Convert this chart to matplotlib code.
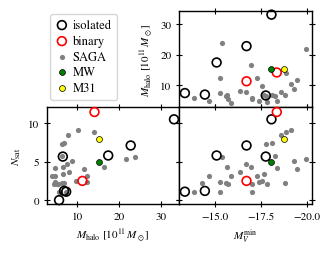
import numpy as np
import matplotlib
matplotlib.use("Agg")
import matplotlib.pyplot as plt
from matplotlib.ticker import MultipleLocator

plt.rcParams['font.family'] = ['STIXGeneral', 'DejaVu Serif']
plt.rcParams['mathtext.fontset'] = 'stix'
plt.rcParams['font.size'] = 8

nan = np.nan
# SAGA hosts: (M_V^min, M_halo [1e11 Msun], N_sat)
saga_mv = [-13.88, -14.27, -14.69, -15.27, -15.27, -15.39, -15.59, -15.68, -15.72, -15.90,
           -16.37, -16.69, -16.97, -17.00, -17.02, -17.29, -17.39, -17.57, -17.70, -17.79,
           -17.83, -18.12, -18.30, -18.37, -18.58, -18.80, -18.89, -19.16, -19.32, -19.49, -19.98]
saga_mhalo = [5.8, nan, 4.6, 12.2, 7.25, 23.8, 6.2, 6.6, 5.4, 3.9,
              8.0, 7.5, 16.5, 5.6, 5.2, 12.2, 4.7, 9.7, 6.6, 6.3,
              4.5, 6.8, 6.35, 4.7, 7.7, 6.7, 13.9, 10.2, 8.6, 11.6, 21.7]
saga_nsat = [1.1, 2.2, 3.2, 2.4, 1.1, 5.57, 2.2, 4.35, 2.1, 3.1,
             3.65, 4.75, 4.35, 1.1, 2.05, 3.1, 2.3, 2.5, 3.35, 7.35,
             2.15, 7.4, 5.8, 4.2, 8.4, 2.2, 8.9, 9.1, 5.1, 4.1, 5.3]

iso_mv = [-13.36, -14.45, -15.09, -16.72, -18.08, -17.77, nan]
iso_mhalo = [7.3, 6.8, 17.4, 22.8, 33.2, 6.5, 5.6]
iso_nsat = [1.1, 1.2, 5.8, 7.1, 10.5, 5.66, 0.0]

bin_mv = [-16.72, -18.37]
bin_mhalo = [11.2, 14.1]
bin_nsat = [2.5, 11.45]

mw_mv, mw_mhalo, mw_nsat = [-18.08], [15.1], [5.0]
m31_mv, m31_mhalo, m31_nsat = [-18.79], [15.1], [8.0]

mh_lim = (2.7, 34.4)
mv_lim = (-13.04, -20.29)
ns_lim = (-0.5, 12.1)

fig = plt.figure(figsize=(3.31, 2.55), dpi=100)
W, H = 331.0, 255.0
x0, x1, x2 = 47 / W, 179 / W, 312 / W
y0, y1, y2 = 1 - 205 / H, 1 - 108 / H, 1 - 12 / H

ax_tr = fig.add_axes([x1, y1, x2 - x1, y2 - y1])
ax_bl = fig.add_axes([x0, y0, x1 - x0, y1 - y0])
ax_br = fig.add_axes([x1, y0, x2 - x1, y1 - y0])


def draw(ax, xs):
    key = {'mv': 0, 'mh': 1, 'ns': 2}
    sets = [
        (saga_mv, saga_mhalo, saga_nsat),
        (iso_mv, iso_mhalo, iso_nsat),
        (bin_mv, bin_mhalo, bin_nsat),
        (mw_mv, mw_mhalo, mw_nsat),
        (m31_mv, m31_mhalo, m31_nsat),
    ]
    xi, yi = key[xs[0]], key[xs[1]]
    h = []
    d = sets[0]
    h.append(ax.scatter(d[xi], d[yi], s=14, color='gray', lw=0, zorder=2, clip_on=False, label='SAGA'))
    d = sets[1]
    h.append(ax.scatter(d[xi], d[yi], s=40, facecolors='none', edgecolors='black', lw=1.2,
                        zorder=3, clip_on=False, label='isolated'))
    d = sets[2]
    h.append(ax.scatter(d[xi], d[yi], s=40, facecolors='none', edgecolors='red', lw=1.2,
                        zorder=3, clip_on=False, label='binary'))
    d = sets[3]
    h.append(ax.scatter(d[xi], d[yi], s=18, color='green', edgecolors='black', lw=0.5,
                        zorder=4, clip_on=False, label='MW'))
    d = sets[4]
    h.append(ax.scatter(d[xi], d[yi], s=18, color='yellow', edgecolors='black', lw=0.5,
                        zorder=4, clip_on=False, label='M31'))
    return h


h = draw(ax_tr, ('mv', 'mh'))
draw(ax_bl, ('mh', 'ns'))
draw(ax_br, ('mv', 'ns'))

ax_tr.set_xlim(mv_lim); ax_tr.set_ylim(mh_lim)
ax_bl.set_xlim(mh_lim); ax_bl.set_ylim(ns_lim)
ax_br.set_xlim(mv_lim); ax_br.set_ylim(ns_lim)

for ax in (ax_tr, ax_bl, ax_br):
    ax.tick_params(direction='inout', length=4, width=0.8, top=True, right=True, labelsize=8)
    for sp in ax.spines.values():
        sp.set_linewidth(1.0)

ax_tr.xaxis.set_major_locator(MultipleLocator(2.5))
ax_br.xaxis.set_major_locator(MultipleLocator(2.5))
ax_tr.yaxis.set_major_locator(MultipleLocator(10))
ax_bl.xaxis.set_major_locator(MultipleLocator(10))
ax_bl.yaxis.set_major_locator(MultipleLocator(5))
ax_br.yaxis.set_major_locator(MultipleLocator(5))

ax_tr.tick_params(labelbottom=False)
ax_br.tick_params(labelleft=False)

ax_tr.set_ylabel(r'$M_{\rm halo}\ [10^{11}\,M_\odot]$', fontsize=8)
ax_bl.set_ylabel(r'$N_{\rm sat}$', fontsize=8)
ax_bl.set_xlabel(r'$M_{\rm halo}\ [10^{11}\,M_\odot]$', fontsize=8)
ax_br.set_xlabel(r'$M_V^{\rm min}$', fontsize=8)

order = [1, 2, 0, 3, 4]
fig.legend([h[i] for i in order], [h[i].get_label() for i in order],
           loc='upper left', bbox_to_anchor=(50 / W, 1 - 15 / H), borderaxespad=0,
           fontsize=9, handlelength=1.0, handletextpad=0.35, labelspacing=0.3,
           borderpad=0.45, frameon=True)

fig.savefig('out.png', dpi=100)
